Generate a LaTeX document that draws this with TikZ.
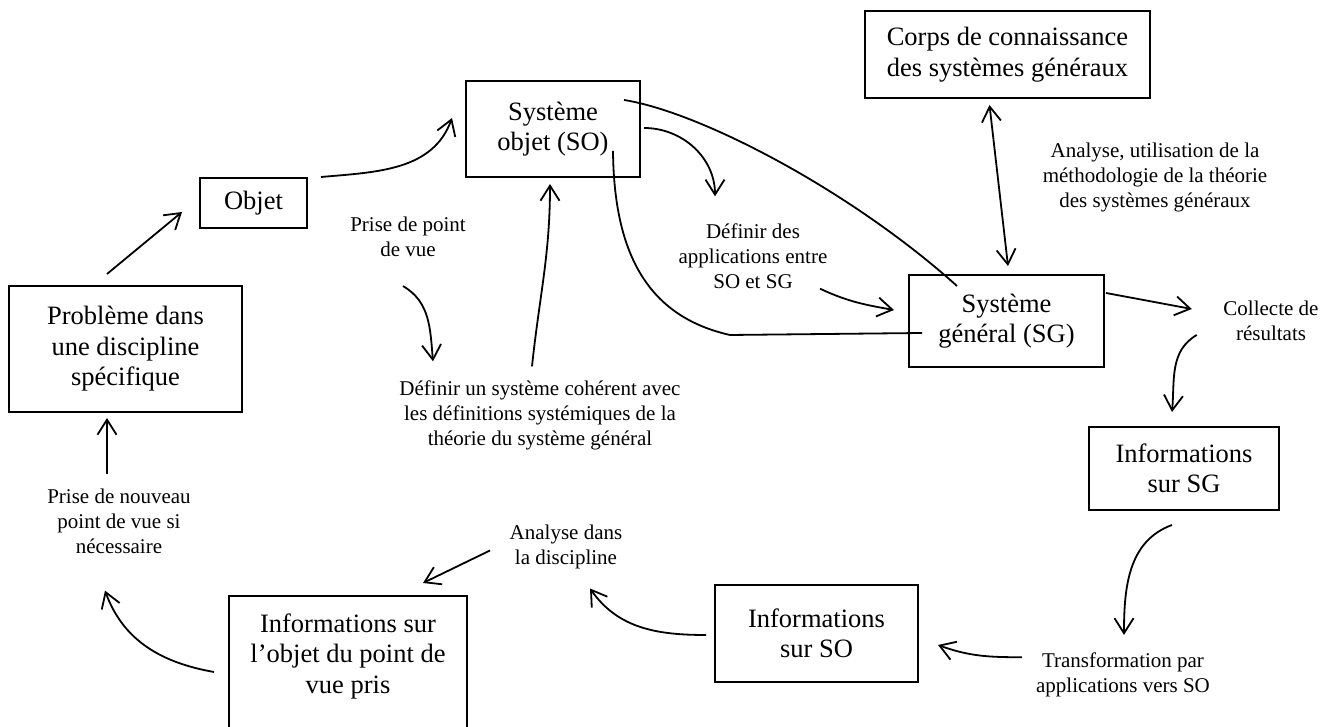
\documentclass[tikz,border=0pt]{standalone}
\usepackage{fontspec}
\setmainfont{Liberation Serif}
\usetikzlibrary{arrows.meta, positioning, calc}

\begin{document}
\begin{tikzpicture}[x=1pt, y=1pt]
  \newcommand\boxfont{\fontsize{26.5}{30.5}\selectfont}
  \newcommand\lblfont{\fontsize{21}{25}\selectfont}
  \newcommand\linew{1.8pt}

  \tikzset{sgbox/.style={draw, line width=2pt, align=center, inner sep=0pt, font=\boxfont}}
  \tikzset{sglbl/.style={align=center, inner sep=0pt, font=\lblfont}}
  \tikzset{ptr/.style={->, >={Straight Barb[length=15pt, width=19pt]}, line width=\linew}}
  \tikzset{dptr/.style={ptr, <->}}
  \tikzset{lnk/.style={line width=\linew}}

  \useasboundingbox (0, 0) rectangle (1331, 727);

  % boxes
  \foreach \nm/\x/\y/\w/\h/\txt in {corps/1007.5/672.5/285/87/{Corps de connaissance\\des systèmes généraux},
      so/553/598/174/96/{Système\\objet (SO)},
      objet/253.5/524/107/50/{Objet},
      prob/125.5/378/233/126/{Problème dans\\une discipline\\spécifique},
      sg/1006.5/406/195/92/{Système\\général (SG)},
      infosg/1184/258.5/190/83/{Informations\\sur SG},
      infoso/816.5/93.5/203/97/{Informations\\sur SO},
      infoobj/348/53.7/238/154.6/{Informations sur\\l’objet du point de\\vue pris\\\strut}}{
    \node[sgbox, minimum width=\w, minimum height=\h] (\nm) at (\x, \y) {\txt};
  }

  % labels
  \foreach \nm/\x/\y/\txt in {prisevue/408/490/{Prise de point\\de vue},
      defsys/540/311.75/{Définir un système cohérent avec\\les définitions systémiques de la\\théorie du système général},
      defapp/753/471/{Définir des\\applications entre\\SO et SG},
      analyse/1155/549.75/{Analyse, utilisation de la\\méthodologie de la théorie\\des systèmes généraux},
      collecte/1271/406.5/{Collecte de\\résultats},
      transf/1123/51.75/{Transformation par\\applications vers SO},
      analdisc/566/180.25/{Analyse dans\\la discipline},
      prisenouv/119/206/{Prise de nouveau\\point de vue si\\nécessaire}}{
    \node[sglbl] (\nm) at (\x, \y) {\txt};
  }

  % arrows
  \draw[ptr] ([shift={(-18.5,11)}]prob.north) -- ([shift={(-17,-9)}]objet.west);
  \draw[ptr] ([shift={(13,0)}]objet.north east) to[out=5, in=-110] ([shift={(-13,11)}]so.west);
  \draw[ptr] ([shift={(-5,-29)}]prisevue.south) to[out=-30, in=95] ([shift={(-107,19)}]defsys.north);
  \draw[ptr] ([shift={(-8,14)}]defsys.north) to[out=84, in=-90] ([shift={(-3,-6)}]so.south);
  \draw[ptr] ([shift={(3,1)}]so.east) to[out=0, in=90] ([shift={(-38,27)}]defapp.north);
  \draw[ptr] ([shift={(67,0)}]defapp.south) to[out=-25, in=170] ([shift={(-14,11)}]sg.west);
  \draw[dptr] ([shift={(-18,-6)}]corps.south) -- ([shift={(1.5,8)}]sg.north);
  \draw[ptr] ([shift={(1,-19)}]sg.north east) -- ([shift={(-31.5,11.5)}]collecte.west);
  \draw[ptr] ([shift={(-26.5,-14.5)}]collecte.west) to[out=-150, in=85] ([shift={(-12,14)}]infosg.north);
  \draw[ptr] ([shift={(-12,-14)}]infosg.south) to[out=-160, in=90] ([shift={(1,18)}]transf.north);
  \draw[ptr] ([shift={(-14,18)}]transf.west) to[out=180, in=-20] ([shift={(19,-11.5)}]infoso.east);
  \draw[ptr] ([shift={(-8,-1.5)}]infoso.west) to[out=180, in=-55] ([shift={(24,-19.5)}]analdisc.south);
  \draw[ptr] ([shift={(-19.5,-3.75)}]analdisc.west) -- ([shift={(-45,12)}]infoobj.north east);
  \draw[ptr] ([shift={(-14,1.3)}]infoobj.west) to[out=170, in=-70] ([shift={(-14,-37)}]prisenouv.south);
  \draw[ptr] ([shift={(-12,14)}]prisenouv.north) -- ([shift={(-18.5,-5)}]prob.south);

  % links SO - SG
  \draw[lnk] ([shift={(-17,-20)}]so.north east) .. controls (700,615) and (850,537) .. ([shift={(-49.5,-12)}]sg.north);
  \draw[lnk] ([shift={(60,27)}]so.south) .. controls (614,470) and (650,410) .. (730,392) -- ([shift={(14,-12)}]sg.west);
\end{tikzpicture}
\end{document}
